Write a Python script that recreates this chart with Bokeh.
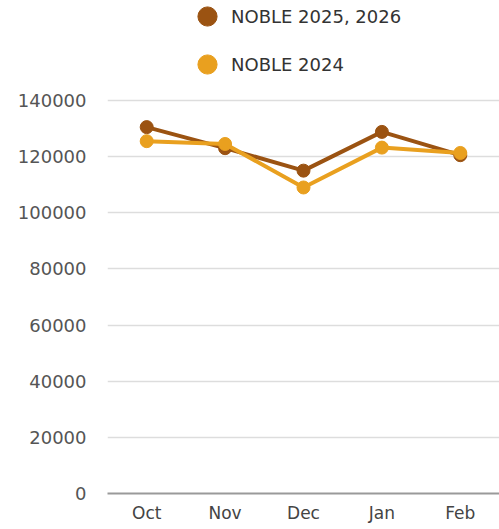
from bokeh.plotting import figure
from bokeh.models import Range1d, FixedTicker, Legend, LegendItem, ColumnDataSource
from bokeh.embed import file_html
from bokeh.resources import INLINE

months = ["Oct", "Nov", "Dec", "Jan", "Feb"]
noble_2025_2026 = [130500, 123000, 115000, 128800, 120500]
noble_2024 = [125500, 124500, 109000, 123200, 121300]
y_ticks = [0, 20000, 40000, 60000, 80000, 100000, 120000, 140000]

dark = "#9B5312"
orange = "#E9A01F"
FONT = "DejaVu Sans"

p = figure(x_range=months, y_range=Range1d(0, 175600), width=499, height=529,
           output_backend="svg", toolbar_location=None,
           min_border_left=107, min_border_right=0, min_border_top=0, min_border_bottom=36)
p.outline_line_color = None
p.background_fill_color = "white"
p.border_fill_color = "white"

src = ColumnDataSource(dict(m=months, a=noble_2025_2026, b=noble_2024))

l1 = p.line("m", "a", source=src, line_color=dark, line_width=4)
s1 = p.scatter("m", "a", source=src, size=13, fill_color=dark, line_color=dark)
l2 = p.line("m", "b", source=src, line_color=orange, line_width=4)
s2 = p.scatter("m", "b", source=src, size=13, fill_color=orange, line_color=orange)

p.yaxis.ticker = FixedTicker(ticks=y_ticks)
p.yaxis.axis_line_color = None
p.yaxis.major_tick_line_color = None
p.yaxis.minor_tick_line_color = None
p.yaxis.major_label_standoff = 15
p.yaxis.major_label_text_font = FONT
p.yaxis.major_label_text_font_size = "18px"
p.yaxis.major_label_text_color = "#555555"
p.yaxis.formatter.use_scientific = False

p.xaxis.axis_line_color = "#9a9a9a"
p.xaxis.axis_line_width = 2
p.xaxis.major_tick_line_color = None
p.xaxis.minor_tick_line_color = None
p.xaxis.major_label_standoff = 3
p.xaxis.major_label_text_font = FONT
p.xaxis.major_label_text_font_size = "17px"
p.xaxis.major_label_text_color = "#444444"

p.xgrid.grid_line_color = None
p.ygrid.ticker = FixedTicker(ticks=y_ticks)
p.ygrid.grid_line_color = "#dddddd"
p.ygrid.grid_line_width = 1.5

legend = Legend(items=[LegendItem(label="NOBLE 2025, 2026", renderers=[s1]),
                       LegendItem(label="NOBLE 2024", renderers=[s2])],
                location=(76, 405), orientation="vertical",
                glyph_width=48, glyph_height=48, label_height=48, spacing=0,
                padding=0, margin=0, label_standoff=-5,
                label_text_font=FONT, label_text_font_size="18px",
                label_text_color="#333333",
                background_fill_alpha=0, border_line_color=None)
p.add_layout(legend)

open("out.html", "w").write(file_html(p, INLINE))
